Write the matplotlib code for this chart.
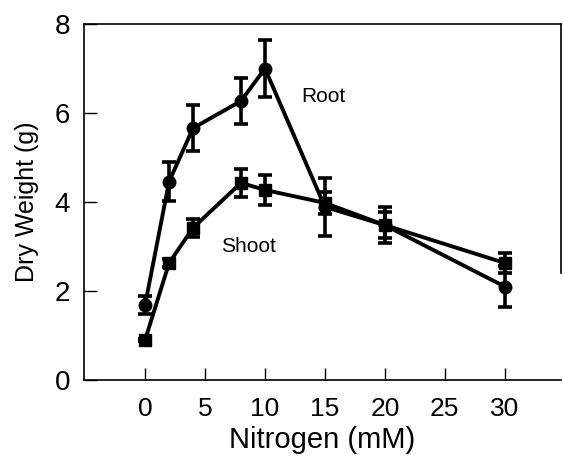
import matplotlib
matplotlib.use("Agg")
import matplotlib.pyplot as plt

nitrogen = [0, 2, 4, 8, 10, 15, 20, 30]
root = [1.69, 4.46, 5.66, 6.27, 7.00, 3.89, 3.48, 2.10]
root_err = [0.20, 0.43, 0.52, 0.51, 0.65, 0.65, 0.40, 0.47]
shoot = [0.90, 2.63, 3.42, 4.43, 4.27, 3.98, 3.48, 2.63]
shoot_err = [0.03, 0.10, 0.20, 0.32, 0.33, 0.25, 0.30, 0.22]
xticks = [0, 5, 10, 15, 20, 25, 30]
yticks = [0, 2, 4, 6, 8]

plt.rcParams['font.family'] = ['Liberation Sans', 'DejaVu Sans']

fig = plt.figure(figsize=(5.63, 4.62), dpi=100)
ax = fig.add_axes([84/563, 82/462, (561-84)/563, (380-24)/462])

ax.errorbar(nitrogen, root, yerr=root_err, color='black', marker='o', markersize=9,
            linewidth=2.8, elinewidth=2.6, capsize=5, capthick=2.6)
ax.errorbar(nitrogen, shoot, yerr=shoot_err, color='black', marker='s', markersize=8.5,
            linewidth=2.8, elinewidth=2.6, capsize=5, capthick=2.6)

ax.text(14.9, 6.36, 'Root', fontsize=15, ha='center', va='center')
ax.text(8.6, 2.99, 'Shoot', fontsize=15, ha='center', va='center')

ax.set_xlim(-5.1, 34.7)
ax.set_ylim(0, 8)
ax.set_xticks(xticks)
ax.set_yticks(yticks)
ax.tick_params(direction='in', length=9, width=1)
ax.tick_params(axis='x', labelsize=19, pad=12)
ax.tick_params(axis='y', labelsize=20, pad=10)
ax.set_xlabel('Nitrogen (mM)', fontsize=21, labelpad=4)
ax.set_ylabel('Dry Weight (g)', fontsize=18, labelpad=11)
for s in ax.spines.values():
    s.set_linewidth(1.2)
ax.spines['right'].set_bounds(2.4, 8)

fig.savefig('out.png', dpi=100)
